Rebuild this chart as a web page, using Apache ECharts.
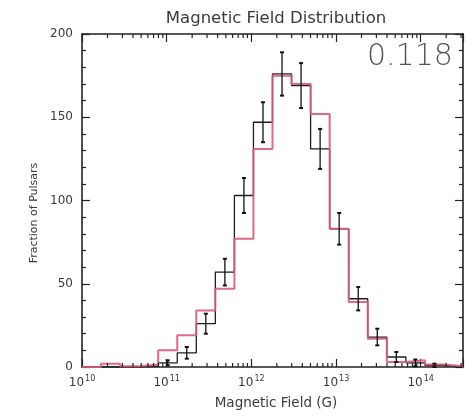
<!DOCTYPE html>
<html><head><meta charset="utf-8">
<script src="https://cdn.jsdelivr.net/npm/echarts@6/dist/echarts.min.js"></script>
<style>html,body{margin:0;padding:0;background:#fff}#c{width:466px;height:416px}</style>
</head><body><div id="c"></div>
<script>
// log10(B) bin edges of the histogram
const binEdges = [10.000, 10.225, 10.450, 10.675, 10.900, 11.125, 11.350, 11.575, 11.800, 12.025,
                  12.250, 12.475, 12.700, 12.925, 13.150, 13.375, 13.600, 13.825, 14.050, 14.275, 14.500];
// model (red) histogram
const modelCounts = [0, 2, 0.5, 1.5, 10, 19, 34, 47, 77, 131, 175, 170, 152, 83, 39, 17, 3, 4, 1.5, 0.5];
// observed (black) histogram with error bars
const dataCounts = [0, 0, 0, 0.5, 2.5, 8.5, 26, 57, 103, 147, 176, 169, 131, 83, 41, 18, 6, 2.5, 1, 0];
const dataErrors = [0, 0, 0, 0, 1.5, 3.5, 6, 8, 10.5, 12, 13, 13.5, 12, 9.5, 7, 5, 3, 2, 1, 0];
const yTickValues = [0, 50, 100, 150, 200];
const xDecades = [10, 11, 12, 13, 14];
const minorFactors = [2, 3, 4, 5, 6, 7, 8, 9];
const titleText = 'Magnetic Field Distribution';
const xName = 'Magnetic Field (G)';
const yName = 'Fraction of Pulsars';
const cornerText = '0.118';

function stepData(vals) {
  const d = vals.map((v, i) => [binEdges[i], v]);
  d.push([binEdges[binEdges.length - 1], vals[vals.length - 1]]);
  return d;
}
const errData = dataCounts.map((v, i) => [(binEdges[i] + binEdges[i + 1]) / 2, v, dataErrors[i]]);
const minorTickVals = [];
xDecades.forEach(d => minorFactors.forEach(m => {
  const v = d + Math.log10(m);
  if (v < binEdges[binEdges.length - 1]) minorTickVals.push([v]);
}));

const axisColor = '#222';
const textColor = '#3a3a3a';
const font = 'DejaVu Sans';

const chart = echarts.init(document.getElementById('c'), null, {renderer: 'canvas'});
const xAxisBase = {
  type: 'value', min: 10, max: 14.5, interval: 1,
  axisLine: {show: true, onZero: false, lineStyle: {color: axisColor, width: 1.6}},
  axisTick: {show: true, inside: true, length: 8, lineStyle: {color: axisColor, width: 1.2}},
  splitLine: {show: false}
};
const yAxisBase = {
  type: 'value', min: 0, max: 200, interval: 50,
  axisLine: {show: true, onZero: false, lineStyle: {color: axisColor, width: 1.6}},
  axisTick: {show: true, inside: true, length: 8, lineStyle: {color: axisColor, width: 1.2}},
  minorTick: {show: true, splitNumber: 5, length: 4, lineStyle: {color: axisColor, width: 1.2}},
  splitLine: {show: false}
};

chart.setOption({
  animation: false,
  backgroundColor: '#fff',
  grid: {left: 82, right: -5, top: 34, bottom: 49},
  xAxis: [
    Object.assign({}, xAxisBase, {
      position: 'bottom',
      axisLabel: {
        margin: 8, color: textColor, fontFamily: font,
        formatter: v => (xDecades.indexOf(v) >= 0 ? '{b|10}{e|' + v + '}' : ''),
        rich: {
          b: {fontSize: 12, fontFamily: font, color: textColor},
          e: {fontSize: 8, fontFamily: font, color: textColor, padding: [0, 0, 7, 1]}
        }
      }
    }),
    Object.assign({}, xAxisBase, {position: 'top', axisLabel: {show: false}})
  ],
  yAxis: [
    Object.assign({}, yAxisBase, {
      position: 'left',
      axisLabel: {margin: 9, fontSize: 12, color: textColor, fontFamily: font,
        formatter: v => (yTickValues.indexOf(v) >= 0 ? String(v) : '')}
    }),
    Object.assign({}, yAxisBase, {position: 'right', axisLabel: {show: false}})
  ],
  graphic: [
    {type: 'text', x: 276, y: 19, style: {text: titleText, fontSize: 16.5, fontFamily: font, fill: textColor, align: 'center', verticalAlign: 'middle'}},
    {type: 'text', x: 276, y: 403, style: {text: xName, fontSize: 13.5, fontFamily: font, fill: textColor, align: 'center', verticalAlign: 'middle'}},
    {type: 'text', x: 34, y: 213, rotation: Math.PI / 2, style: {text: yName, fontSize: 11, fontFamily: font, fill: textColor, align: 'center', verticalAlign: 'middle'}},
    {type: 'text', x: 367, y: 57, style: {text: cornerText, fontSize: 30, fontFamily: font, fontWeight: 'lighter', fill: '#555', align: 'left', verticalAlign: 'middle'}}
  ],
  series: [
    {
      type: 'custom', name: 'minorTicks', data: minorTickVals, silent: true, z: 5,
      encode: {x: 0},
      renderItem: (params, api) => {
        const x = api.coord([api.value(0), 0])[0];
        const cs = params.coordSys;
        const yb = cs.y + cs.height, yt = cs.y;
        return {type: 'group', children: [
          {type: 'line', shape: {x1: x, y1: yb, x2: x, y2: yb - 4}, style: {stroke: axisColor, lineWidth: 1.2}},
          {type: 'line', shape: {x1: x, y1: yt, x2: x, y2: yt + 4}, style: {stroke: axisColor, lineWidth: 1.2}}
        ]};
      }
    },
    {
      type: 'line', name: 'data', step: 'end', data: stepData(dataCounts), symbol: 'none',
      lineStyle: {color: '#1e1e1e', width: 1.3}, z: 2
    },
    {
      type: 'line', name: 'model', step: 'end', data: stepData(modelCounts), symbol: 'none',
      lineStyle: {color: '#dc5a78', width: 2, opacity: 0.9}, z: 3
    },
    {
      type: 'custom', name: 'errors', data: errData, z: 4,
      encode: {x: 0, y: 1},
      renderItem: (params, api) => {
        const err = api.value(2);
        if (!err) return null;
        const x = api.value(0), v = api.value(1);
        const top = api.coord([x, v + err]);
        const bot = api.coord([x, v - err]);
        const st = {stroke: '#111', lineWidth: 1.3};
        return {type: 'group', children: [
          {type: 'line', shape: {x1: top[0], y1: top[1], x2: bot[0], y2: bot[1]}, style: st},
          {type: 'line', shape: {x1: top[0] - 2, y1: top[1], x2: top[0] + 2, y2: top[1]}, style: {stroke: '#111', lineWidth: 2}},
          {type: 'line', shape: {x1: bot[0] - 2, y1: bot[1], x2: bot[0] + 2, y2: bot[1]}, style: {stroke: '#111', lineWidth: 2}}
        ]};
      }
    }
  ]
});
</script></body></html>
